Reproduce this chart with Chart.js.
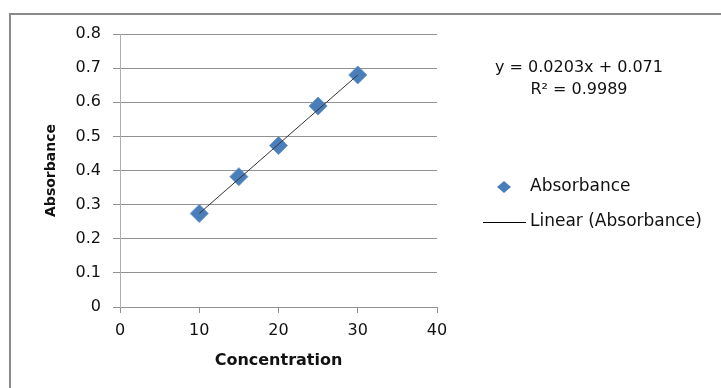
<!DOCTYPE html>
<html>
<head>
<meta charset="utf-8">
<script src="https://cdn.jsdelivr.net/npm/chart.js@4/dist/chart.umd.min.js"></script>
<style>
  html, body { margin: 0; padding: 0; background: #fff; }
  #wrap { width: 721px; height: 388px; }
</style>
</head>
<body>
<div id="wrap"><canvas id="chart" width="721" height="388"></canvas></div>
<script>
// data
const concentration = [10, 15, 20, 25, 30];
const absorbance = [0.274, 0.382, 0.473, 0.589, 0.680];
// trendline end points (from y = 0.0203x + 0.071)
const trendX = [10, 30];
const trendY = [0.274, 0.680];
const yTicks = ['0', '0.1', '0.2', '0.3', '0.4', '0.5', '0.6', '0.7', '0.8'];
const xTicks = ['0', '10', '20', '30', '40'];
const equationText = 'y = 0.0203x + 0.071';
const r2Text = 'R² = 0.9989';

const FONT = '"DejaVu Sans", sans-serif';
const gridColor = '#929292';

// frame, equation and legend
const extras = {
  id: 'extras',
  afterDraw(chart) {
    const ctx = chart.ctx;
    ctx.save();
    ctx.strokeStyle = '#8a8a8a';
    ctx.lineWidth = 2;
    ctx.beginPath();
    ctx.moveTo(10, 400);
    ctx.lineTo(10, 14);
    ctx.lineTo(730, 14);
    ctx.stroke();

    ctx.fillStyle = '#111';
    ctx.font = '16px ' + FONT;
    ctx.textAlign = 'center';
    ctx.textBaseline = 'middle';
    ctx.fillText(equationText, 579, 68);
    ctx.fillText(r2Text, 579, 90);

    // legend: scatter series
    const ds = chart.data.datasets[1];
    ctx.font = '17px ' + FONT;
    ctx.fillStyle = ds.backgroundColor;
    ctx.beginPath();
    ctx.moveTo(504, 181);
    ctx.lineTo(511, 187);
    ctx.lineTo(504, 193);
    ctx.lineTo(497, 187);
    ctx.closePath();
    ctx.fill();
    ctx.fillStyle = '#111';
    ctx.textAlign = 'left';
    ctx.fillText('Absorbance', 530, 187);

    // legend: trendline
    ctx.strokeStyle = '#000';
    ctx.lineWidth = 1;
    ctx.beginPath();
    ctx.moveTo(483, 222.5);
    ctx.lineTo(526, 222.5);
    ctx.stroke();
    ctx.fillText('Linear (Absorbance)', 530, 222);
    ctx.restore();
  }
};

new Chart('chart', {
  type: 'scatter',
  data: {
    datasets: [{
      label: 'Linear (Absorbance)',
      type: 'line',
      data: trendX.map((x, i) => ({ x: x, y: trendY[i] })),
      borderColor: '#333',
      borderWidth: 1,
      pointRadius: 0,
      fill: false,
      order: 1
    }, {
      label: 'Absorbance',
      data: concentration.map((x, i) => ({ x: x, y: absorbance[i] })),
      backgroundColor: '#4a7ebb',
      borderColor: '#6a96cb',
      borderWidth: 1,
      pointStyle: 'rectRot',
      pointRadius: 9,
      pointHoverRadius: 9,
      order: 2
    }]
  },
  options: {
    responsive: false,
    animation: false,
    events: [],
    layout: { padding: { left: 0, top: 34, right: 284, bottom: 0 } },
    plugins: {
      legend: { display: false },
      tooltip: { enabled: false }
    },
    scales: {
      x: {
        type: 'linear',
        min: 0,
        max: 40,
        afterFit(scale) { scale.height = 81; },
        ticks: {
          stepSize: 10,
          padding: 8,
          color: '#111',
          font: { family: FONT, size: 16 },
          callback: (v, i) => xTicks[i]
        },
        grid: { drawOnChartArea: false, drawTicks: true, tickLength: 6, color: gridColor },
        border: { color: gridColor },
        title: {
          display: true,
          text: 'Concentration',
          color: '#111',
          font: { family: FONT, size: 16, weight: 'bold' },
          padding: { top: 0, bottom: 18 }
        }
      },
      y: {
        min: 0,
        max: 0.8,
        afterFit(scale) { scale.width = 120; },
        ticks: {
          stepSize: 0.1,
          padding: 12,
          color: '#111',
          font: { family: FONT, size: 16 },
          callback: (v, i) => yTicks[i]
        },
        grid: { color: gridColor, tickLength: 7 },
        border: { color: '#b0b0b0' },
        title: {
          display: true,
          text: 'Absorbance',
          color: '#111',
          font: { family: FONT, size: 14, weight: 'bold' },
          padding: { top: 43, bottom: 0 }
        }
      }
    }
  },
  plugins: [extras]
});
</script>
</body>
</html>
